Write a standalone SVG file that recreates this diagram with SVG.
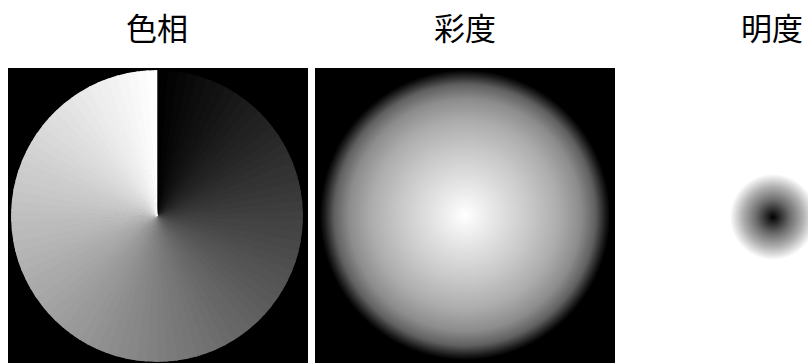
<svg xmlns="http://www.w3.org/2000/svg" xmlns:xlink="http://www.w3.org/1999/xlink" width="808" height="363" viewBox="0 0 808 363">
<style>
.t{font-family:"Noto Sans CJK JP","Noto Sans CJK SC",sans-serif;font-size:31px;fill:#000;text-anchor:middle}
.wd{fill:currentColor;stroke:currentColor;stroke-width:0.6;stroke-linejoin:round}
</style>
<defs>
<path id="w" class="wd" d="M0 0 L0 -146 A146 146 0 0 1 11.455 -145.55 Z"/>
<path id="wl" class="wd" d="M0 0 L0 -146 A146 146 0 0 1 10.184 -145.644 Z"/>
<radialGradient id="sat" cx="465" cy="215" r="145" gradientUnits="userSpaceOnUse">
<stop offset="0" stop-color="#fff"/>
<stop offset="0.2" stop-color="#e6e6e6"/>
<stop offset="0.45" stop-color="#c8c8c8"/>
<stop offset="0.65" stop-color="#acacac"/>
<stop offset="0.8" stop-color="#8c8c8c"/>
<stop offset="0.9" stop-color="#606060"/>
<stop offset="0.97" stop-color="#1a1a1a"/>
<stop offset="1" stop-color="#000"/>
</radialGradient>
<radialGradient id="val" cx="773" cy="217" r="43" gradientUnits="userSpaceOnUse">
<stop offset="0" stop-color="#000"/>
<stop offset="0.15" stop-color="#2a2a2a"/>
<stop offset="0.4" stop-color="#6e6e6e"/>
<stop offset="0.7" stop-color="#b0b0b0"/>
<stop offset="0.9" stop-color="#e4e4e4"/>
<stop offset="1" stop-color="#fff"/>
</radialGradient>
<clipPath id="hc"><circle cx="157" cy="216" r="146"/></clipPath>
</defs>
<rect width="808" height="363" fill="#fff"/>
<g id="hue">
<text class="t" x="157" y="40">色相</text>
<rect x="8" y="68" width="300" height="300" fill="#000"/>
<g clip-path="url(#hc)">
<g transform="translate(157 216)">
<use href="#w" transform="rotate(0)" color="rgb(1,1,1)"/>
<use href="#w" transform="rotate(4)" color="rgb(4,4,4)"/>
<use href="#w" transform="rotate(8)" color="rgb(7,7,7)"/>
<use href="#w" transform="rotate(12)" color="rgb(10,10,10)"/>
<use href="#w" transform="rotate(16)" color="rgb(13,13,13)"/>
<use href="#w" transform="rotate(20)" color="rgb(16,16,16)"/>
<use href="#w" transform="rotate(24)" color="rgb(18,18,18)"/>
<use href="#w" transform="rotate(28)" color="rgb(21,21,21)"/>
<use href="#w" transform="rotate(32)" color="rgb(24,24,24)"/>
<use href="#w" transform="rotate(36)" color="rgb(27,27,27)"/>
<use href="#w" transform="rotate(40)" color="rgb(30,30,30)"/>
<use href="#w" transform="rotate(44)" color="rgb(33,33,33)"/>
<use href="#w" transform="rotate(48)" color="rgb(35,35,35)"/>
<use href="#w" transform="rotate(52)" color="rgb(38,38,38)"/>
<use href="#w" transform="rotate(56)" color="rgb(41,41,41)"/>
<use href="#w" transform="rotate(60)" color="rgb(44,44,44)"/>
<use href="#w" transform="rotate(64)" color="rgb(47,47,47)"/>
<use href="#w" transform="rotate(68)" color="rgb(50,50,50)"/>
<use href="#w" transform="rotate(72)" color="rgb(52,52,52)"/>
<use href="#w" transform="rotate(76)" color="rgb(55,55,55)"/>
<use href="#w" transform="rotate(80)" color="rgb(58,58,58)"/>
<use href="#w" transform="rotate(84)" color="rgb(61,61,61)"/>
<use href="#w" transform="rotate(88)" color="rgb(64,64,64)"/>
<use href="#w" transform="rotate(92)" color="rgb(67,67,67)"/>
<use href="#w" transform="rotate(96)" color="rgb(69,69,69)"/>
<use href="#w" transform="rotate(100)" color="rgb(72,72,72)"/>
<use href="#w" transform="rotate(104)" color="rgb(75,75,75)"/>
<use href="#w" transform="rotate(108)" color="rgb(78,78,78)"/>
<use href="#w" transform="rotate(112)" color="rgb(81,81,81)"/>
<use href="#w" transform="rotate(116)" color="rgb(84,84,84)"/>
<use href="#w" transform="rotate(120)" color="rgb(86,86,86)"/>
<use href="#w" transform="rotate(124)" color="rgb(89,89,89)"/>
<use href="#w" transform="rotate(128)" color="rgb(92,92,92)"/>
<use href="#w" transform="rotate(132)" color="rgb(95,95,95)"/>
<use href="#w" transform="rotate(136)" color="rgb(98,98,98)"/>
<use href="#w" transform="rotate(140)" color="rgb(101,101,101)"/>
<use href="#w" transform="rotate(144)" color="rgb(103,103,103)"/>
<use href="#w" transform="rotate(148)" color="rgb(106,106,106)"/>
<use href="#w" transform="rotate(152)" color="rgb(109,109,109)"/>
<use href="#w" transform="rotate(156)" color="rgb(112,112,112)"/>
<use href="#w" transform="rotate(160)" color="rgb(115,115,115)"/>
<use href="#w" transform="rotate(164)" color="rgb(118,118,118)"/>
<use href="#w" transform="rotate(168)" color="rgb(120,120,120)"/>
<use href="#w" transform="rotate(172)" color="rgb(123,123,123)"/>
<use href="#w" transform="rotate(176)" color="rgb(126,126,126)"/>
<use href="#w" transform="rotate(180)" color="rgb(129,129,129)"/>
<use href="#w" transform="rotate(184)" color="rgb(132,132,132)"/>
<use href="#w" transform="rotate(188)" color="rgb(135,135,135)"/>
<use href="#w" transform="rotate(192)" color="rgb(137,137,137)"/>
<use href="#w" transform="rotate(196)" color="rgb(140,140,140)"/>
<use href="#w" transform="rotate(200)" color="rgb(143,143,143)"/>
<use href="#w" transform="rotate(204)" color="rgb(146,146,146)"/>
<use href="#w" transform="rotate(208)" color="rgb(149,149,149)"/>
<use href="#w" transform="rotate(212)" color="rgb(152,152,152)"/>
<use href="#w" transform="rotate(216)" color="rgb(154,154,154)"/>
<use href="#w" transform="rotate(220)" color="rgb(157,157,157)"/>
<use href="#w" transform="rotate(224)" color="rgb(160,160,160)"/>
<use href="#w" transform="rotate(228)" color="rgb(163,163,163)"/>
<use href="#w" transform="rotate(232)" color="rgb(166,166,166)"/>
<use href="#w" transform="rotate(236)" color="rgb(169,169,169)"/>
<use href="#w" transform="rotate(240)" color="rgb(171,171,171)"/>
<use href="#w" transform="rotate(244)" color="rgb(174,174,174)"/>
<use href="#w" transform="rotate(248)" color="rgb(177,177,177)"/>
<use href="#w" transform="rotate(252)" color="rgb(180,180,180)"/>
<use href="#w" transform="rotate(256)" color="rgb(183,183,183)"/>
<use href="#w" transform="rotate(260)" color="rgb(186,186,186)"/>
<use href="#w" transform="rotate(264)" color="rgb(188,188,188)"/>
<use href="#w" transform="rotate(268)" color="rgb(191,191,191)"/>
<use href="#w" transform="rotate(272)" color="rgb(194,194,194)"/>
<use href="#w" transform="rotate(276)" color="rgb(197,197,197)"/>
<use href="#w" transform="rotate(280)" color="rgb(200,200,200)"/>
<use href="#w" transform="rotate(284)" color="rgb(203,203,203)"/>
<use href="#w" transform="rotate(288)" color="rgb(205,205,205)"/>
<use href="#w" transform="rotate(292)" color="rgb(208,208,208)"/>
<use href="#w" transform="rotate(296)" color="rgb(211,211,211)"/>
<use href="#w" transform="rotate(300)" color="rgb(214,214,214)"/>
<use href="#w" transform="rotate(304)" color="rgb(217,217,217)"/>
<use href="#w" transform="rotate(308)" color="rgb(220,220,220)"/>
<use href="#w" transform="rotate(312)" color="rgb(222,222,222)"/>
<use href="#w" transform="rotate(316)" color="rgb(225,225,225)"/>
<use href="#w" transform="rotate(320)" color="rgb(228,228,228)"/>
<use href="#w" transform="rotate(324)" color="rgb(231,231,231)"/>
<use href="#w" transform="rotate(328)" color="rgb(234,234,234)"/>
<use href="#w" transform="rotate(332)" color="rgb(237,237,237)"/>
<use href="#w" transform="rotate(336)" color="rgb(239,239,239)"/>
<use href="#w" transform="rotate(340)" color="rgb(242,242,242)"/>
<use href="#w" transform="rotate(344)" color="rgb(245,245,245)"/>
<use href="#w" transform="rotate(348)" color="rgb(248,248,248)"/>
<use href="#w" transform="rotate(352)" color="rgb(251,251,251)"/>
<use href="#wl" transform="rotate(356)" color="rgb(254,254,254)"/>
</g>
</g>
</g>
<g id="saturation">
<text class="t" x="465" y="40">彩度</text>
<rect x="315" y="68" width="300" height="300" fill="#000"/>
<circle cx="465" cy="215" r="145" fill="url(#sat)"/>
</g>
<g id="value">
<text class="t" x="772" y="40">明度</text>
<circle cx="773" cy="217" r="43" fill="url(#val)"/>
</g>
</svg>
